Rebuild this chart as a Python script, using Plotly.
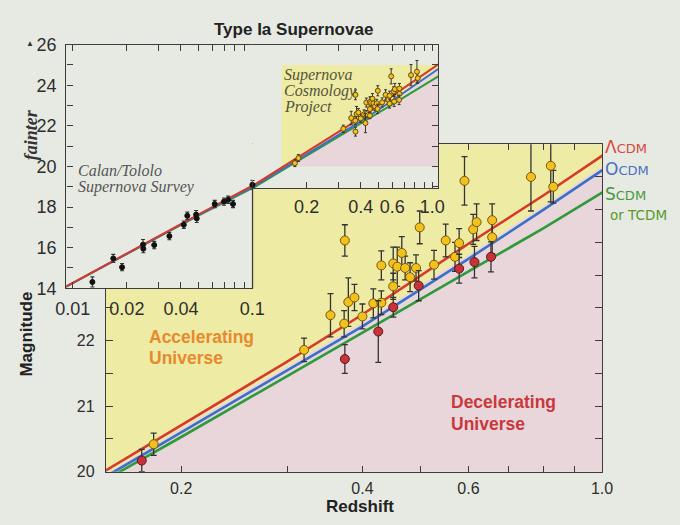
import math
import plotly.graph_objects as go

# ---------------- data ----------------
# Calan/Tololo Supernova Survey (inset, black points)
ct_z = [0.01285, 0.0168, 0.0188, 0.0246, 0.0247, 0.0284, 0.0345, 0.0415, 0.0434,
        0.0486, 0.0490, 0.0617, 0.0695, 0.0733, 0.0780, 0.100]
ct_mag = [14.31, 15.47, 15.04, 16.15, 15.95, 16.13, 16.57, 17.13, 17.57,
          17.63, 17.44, 18.15, 18.27, 18.36, 18.15, 19.10]
ct_err = [0.25, 0.20, 0.18, 0.25, 0.20, 0.18, 0.18, 0.18, 0.18,
          0.20, 0.20, 0.18, 0.18, 0.18, 0.18, 0.22]

# Supernova Cosmology Project: yellow points
scp_y_z = [0.180, 0.320, 0.354, 0.373, 0.374, 0.379, 0.388, 0.400, 0.417, 0.430,
           0.430, 0.450, 0.450, 0.457, 0.465, 0.471, 0.480, 0.491, 0.498, 0.526,
           0.550, 0.570, 0.579, 0.591, 0.611, 0.619, 0.657, 0.657, 0.762, 0.822, 0.830]
scp_y_mag = [20.42, 21.86, 22.39, 22.26, 23.53, 22.59, 22.66, 22.37, 22.57, 22.58,
             23.15, 23.18, 22.83, 23.13, 23.34, 23.11, 22.97, 23.11, 23.73, 23.16,
             23.53, 23.28, 23.49, 24.44, 23.70, 23.81, 23.84, 23.58, 24.50, 24.67, 24.35]
scp_y_err = [0.17, 0.18, 0.33, 0.20, 0.24, 0.37, 0.20, 0.19, 0.22, 0.18,
             0.22, 0.25, 0.20, 0.30, 0.25, 0.18, 0.22, 0.20, 0.25, 0.22,
             0.25, 0.22, 0.22, 0.37, 0.23, 0.28, 0.25, 0.25, 0.52, 0.55, 0.25]

# Supernova Cosmology Project: red points
scp_r_z = [0.172, 0.374, 0.425, 0.450, 0.496, 0.579, 0.614, 0.654]
scp_r_mag = [20.17, 21.72, 22.14, 22.51, 22.84, 23.10, 23.20, 23.28]
scp_r_err = [0.17, 0.22, 0.47, 0.15, 0.23, 0.22, 0.24, 0.23]

# model curves (magnitude vs redshift)
model_z = [0.0088, 0.01, 0.02, 0.05, 0.1, 0.15, 0.2, 0.3, 0.4, 0.6, 0.8, 1.0, 1.08]
lcdm_mag = [14.0, 14.27, 15.72, 17.63, 19.05, 20.02, 20.72, 21.68, 22.40, 23.48, 24.22, 24.83, 25.03]
ocdm_mag = [14.0, 14.26, 15.70, 17.60, 18.98, 19.93, 20.60, 21.55, 22.22, 23.25, 24.00, 24.60, 24.80]
scdm_mag = [14.0, 14.25, 15.69, 17.58, 18.93, 19.88, 20.53, 21.46, 22.12, 23.06, 23.72, 24.26, 24.44]

# accelerating / decelerating boundary
bound_z = [0.152, 0.2, 0.3, 0.4, 0.6, 0.8, 1.0, 1.08]
bound_mag = [20.0, 20.66, 21.61, 22.28, 23.31, 24.06, 24.66, 24.86]

# zoomed window (main panel) in data units
zoom_z = [0.145, 1.08]
zoom_mag = [20.0, 25.0]

main_xticks = [0.2, 0.3, 0.4, 0.5, 0.6, 0.7, 0.8, 0.9, 1.0]
main_xtext = ["0.2", "", "0.4", "", "0.6", "", "", "", "1.0"]
main_yticks = [20, 20.5, 21, 21.5, 22, 22.5, 23, 23.5, 24, 24.5, 25]
main_ytext = ["20", "", "21", "", "22", "", "", "", "", "", ""]
insA_xticks = [0.01, 0.02, 0.03, 0.04, 0.05, 0.06, 0.07, 0.08, 0.09, 0.1]
insA_xtext = ["0.01", "0.02", "", "0.04", "", "", "", "", "", "0.1"]
insA_yticks = list(range(14, 27))
insA_ytext = [str(v) if v % 2 == 0 else "" for v in insA_yticks]
insB_xticks = [0.2, 0.3, 0.4, 0.5, 0.6, 0.7, 0.8, 0.9, 1.0]
insB_xtext = ["0.2", "", "0.4", "", "0.6", "", "", "", "1.0"]
insB_yticks = list(range(19, 27))

# ---------------- styling / layout helpers ----------------
W, H = 680, 525
PAPER = "#e7eae3"
YELLOW = "#eeeba4"
PINK = "#e8d6da"
RED = "#d83a2a"
BLUE = "#3b70c8"
GREEN = "#2f9a3c"
AX = "#3c3c3c"
SANS = "Liberation Sans, Arial, sans-serif"
NARROW = "Liberation Sans Narrow, Arial Narrow, Liberation Sans, sans-serif"
WIDE = "DejaVu Sans, Verdana, sans-serif"
SERIF = "Liberation Serif, Times New Roman, serif"


def fx(p):
    return p / W


def fy(p):
    return 1 - p / H


fig = go.Figure()


def add_regions(xa, ya):
    fig.add_trace(go.Scatter(
        x=[zoom_z[0], zoom_z[1], zoom_z[1], zoom_z[0], zoom_z[0]],
        y=[zoom_mag[0], zoom_mag[0], zoom_mag[1], zoom_mag[1], zoom_mag[0]],
        fill="toself", fillcolor=YELLOW, mode="lines", line=dict(width=0),
        hoverinfo="skip", showlegend=False, xaxis=xa, yaxis=ya))
    fig.add_trace(go.Scatter(
        x=bound_z + [bound_z[-1], bound_z[0]],
        y=bound_mag + [zoom_mag[0], zoom_mag[0]],
        fill="toself", fillcolor=PINK, mode="lines", line=dict(width=0),
        hoverinfo="skip", showlegend=False, xaxis=xa, yaxis=ya))


def add_models(xa, ya, w):
    for mag, col in ((scdm_mag, GREEN), (ocdm_mag, BLUE), (lcdm_mag, RED)):
        fig.add_trace(go.Scatter(x=model_z, y=mag, mode="lines",
                                 line=dict(color=col, width=w),
                                 hoverinfo="skip", showlegend=False,
                                 xaxis=xa, yaxis=ya))


def add_points(xs, ys, es, xa, ya, fill, edge, size, ethick, ewidth, clip=True):
    fig.add_trace(go.Scatter(
        x=xs, y=ys, mode="markers", xaxis=xa, yaxis=ya, showlegend=False,
        cliponaxis=clip,
        marker=dict(size=size, color=fill, line=dict(color=edge, width=1)),
        error_y=dict(type="data", array=es, visible=True, color="#333333",
                     thickness=ethick, width=ewidth)))


# main panel
add_regions("x", "y")
add_models("x", "y", 2.6)
add_points(scp_y_z, scp_y_mag, scp_y_err, "x", "y", "#f2c21c", "#7a5510", 9, 1.3, 3)
add_points(scp_r_z, scp_r_mag, scp_r_err, "x", "y", "#c8323a", "#5a1818", 9, 1.3, 3)

# inset, low-redshift part
add_models("x2", "y2", 2.0)
add_points(ct_z, ct_mag, ct_err, "x2", "y2", "#111111", "#111111", 5, 1.1, 2, clip=False)

# inset, high-redshift part
add_regions("x3", "y3")
add_models("x3", "y3", 2.0)
add_points(ct_z, ct_mag, ct_err, "x3", "y3", "#111111", "#111111", 5, 1.1, 2)
add_points(scp_y_z, scp_y_mag, scp_y_err, "x3", "y3", "#f2c21c", "#6a4a10", 5, 1.0, 1.5)
add_points(scp_r_z, scp_r_mag, scp_r_err, "x3", "y3", "#f2c21c", "#6a4a10", 5, 1.0, 1.5)

axis_common = dict(showline=True, linecolor=AX, linewidth=1.3, ticks="inside",
                   tickcolor=AX, tickwidth=1.2, showgrid=False, zeroline=False)
TICKC = "#2e2e2e"

fig.update_layout(
    width=W, height=H, margin=dict(l=0, r=0, t=0, b=0),
    paper_bgcolor=PAPER, plot_bgcolor=PAPER, showlegend=False,
    font=dict(family=SANS, color="#333333"),
    xaxis=dict(axis_common, type="log", range=[math.log10(0.15), 0],
               domain=[fx(98.3), fx(611.7)], anchor="y", mirror="ticks", ticklen=6,
               tickvals=main_xticks, ticktext=main_xtext,
               tickfont=dict(size=16, color=TICKC), ticklabelstandoff=2),
    yaxis=dict(axis_common, range=zoom_mag, domain=[fy(480), fy(139.5)], anchor="x",
               mirror="ticks", ticklen=7, tickvals=main_yticks, ticktext=main_ytext,
               tickfont=dict(size=16, color=TICKC), ticklabelstandoff=7),
    xaxis2=dict(axis_common, type="log", range=[-2.036, -0.999],
                domain=[fx(57.3), fx(250)], anchor="y2", mirror="ticks", ticklen=6,
                tickvals=insA_xticks, ticktext=insA_xtext,
                tickfont=dict(size=18, color=TICKC), ticklabelstandoff=4),
    yaxis2=dict(axis_common, range=[14, 26], domain=[fy(289.3), fy(36)], anchor="x2",
                mirror=False, ticklen=6, tickvals=insA_yticks, ticktext=insA_ytext,
                tickfont=dict(size=18, color=TICKC), ticklabelstandoff=5),
    xaxis3=dict(axis_common, type="log", range=[-1.0, 0.034],
                domain=[fx(250), fx(442.3)], anchor="y3", mirror="ticks", ticklen=6,
                tickvals=insB_xticks, ticktext=insB_xtext,
                tickfont=dict(size=18, color=TICKC), ticklabelstandoff=2),
    yaxis3=dict(axis_common, range=[18.95, 26], domain=[fy(185), fy(36)], anchor="x3",
                side="right", mirror=False, ticklen=6, tickvals=insB_yticks,
                showticklabels=False),
)

# step in the inset frame
fig.add_shape(type="line", xref="paper", yref="paper", x0=fx(250), x1=fx(250),
              y0=fy(185), y1=fy(289.3), line=dict(color=AX, width=1.3), layer="above")


def note(text, x, y, size, color, family=SANS, xanchor="left", angle=0):
    fig.add_annotation(text=text, x=fx(x), y=fy(y), xref="paper", yref="paper",
                       showarrow=False, xanchor=xanchor, yanchor="middle",
                       textangle=angle, font=dict(size=size, color=color, family=family))


note("<b>Type Ia Supernovae</b>", 292, 20.5, 17, "#222222", xanchor="center")
note("<b>Magnitude</b>", 16, 337, 17, "#222222", xanchor="center", angle=-90)
note("<b>Redshift</b>", 361, 516, 17, "#222222", xanchor="center")
note("<b><i>fainter</i></b>", 21, 130, 18, "#333333", family=SERIF, xanchor="center", angle=-90)
note("▲", 20, 35, 8, "#333333", xanchor="center")

note("<b>Accelerating</b>", 141, 340, 17.5, "#e78a2e", family=NARROW)
note("<b>Universe</b>", 141, 362, 17.5, "#e78a2e", family=NARROW)
note("<b>Decelerating</b>", 453, 408, 17.5, "#c9383c", family=NARROW)
note("<b>Universe</b>", 453, 430, 17.5, "#c9383c", family=NARROW)

note("Λ<span style='font-size:13px'>CDM</span>", 613, 142, 17, "#d6483a", family=WIDE)
note("O<span style='font-size:13px'>CDM</span>", 613, 165, 17, "#4a72c0", family=WIDE)
note("S<span style='font-size:13px'>CDM</span>", 613, 191.5, 17, "#43993e", family=WIDE)
note("or TCDM", 618, 213, 13.5, "#559a2c", family=WIDE)

note("<i>Supernova</i>", 280, 68, 16, "#55553a", family=SERIF)
note("<i>Cosmology</i>", 280, 84, 16, "#55553a", family=SERIF)
note("<i>Project</i>", 280, 101, 16, "#55553a", family=SERIF)
note("<i>Calan/Tololo</i>", 67, 167, 16, "#555555", family=SERIF)
note("<i>Supernova Survey</i>", 67, 184, 16, "#555555", family=SERIF)

fig.write_html("out.html")
